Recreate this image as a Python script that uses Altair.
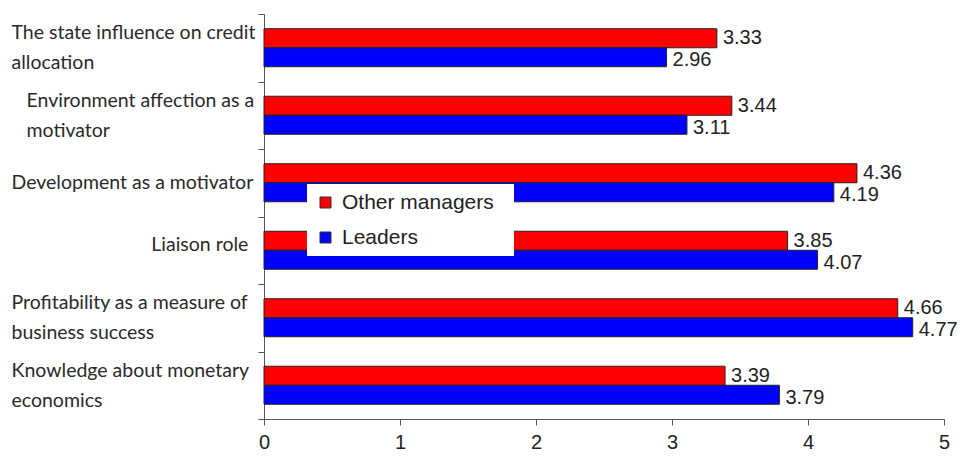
import altair as alt
import pandas as pd

categories = [
    "The state influence on credit allocation",
    "Environment affection as a motivator",
    "Development as a motivator",
    "Liaison role",
    "Profitability as a measure of business success",
    "Knowledge about monetary economics",
]
label_lines = [
    ["The state influence on credit", "allocation"],
    ["Environment affection as a", "motivator"],
    ["Development as a motivator"],
    ["Liaison role"],
    ["Profitability as a measure of", "business success"],
    ["Knowledge about monetary", "economics"],
]
label_indent = [0, 3, 0, 28, 0, 0]  # leading non-breaking spaces
series = ["Other managers", "Leaders"]
other_managers = [3.33, 3.44, 4.36, 3.85, 4.66, 3.39]
leaders = [2.96, 3.11, 4.19, 4.07, 4.77, 3.79]
x_ticks = [0, 1, 2, 3, 4, 5]

rows = []
for c, a, b in zip(categories, other_managers, leaders):
    rows.append({"category": c, "series": series[0], "value": a})
    rows.append({"category": c, "series": series[1], "value": b})
df = pd.DataFrame(rows)

label_font = "Lato"
num_font = "Liberation Sans"
NB = "\u00a0"
ZW = "\u200b"  # keeps the non-breaking spaces from being trimmed

expr = "datum.label"
for cat, lines, ind in reversed(list(zip(categories, label_lines, label_indent))):
    pre = (ZW + NB * ind) if ind else ""
    arr = "[" + ", ".join("'" + pre + ln + "'" for ln in lines) + "]"
    expr = f"datum.value == '{cat}' ? {arr} : ({expr})"
multi = [c for c, l in zip(categories, label_lines) if len(l) > 1]
multi_test = " || ".join(f"datum.value == '{c}'" for c in multi)

y_enc = alt.Y(
    "category:N",
    sort=categories,
    title=None,
    scale=alt.Scale(paddingInner=0, paddingOuter=0),
    axis=alt.Axis(
        labelExpr=expr,
        labelAlign="left",
        labelBaseline={
            "condition": [
                {"test": multi_test, "value": "line-bottom"},
                {"test": "datum.value == 'Liaison role'", "value": "alphabetic"},
            ],
            "value": "middle",
        },
        labelPadding=247,
        labelLimit=400,
        labelFont=label_font,
        labelFontSize=19.5,
        labelLineHeight=30,
        labelColor="#2a2a2a",
        tickBand="extent",
        tickSize=6,
        tickColor="#555555",
        domainColor="#555555",
        labelOverlap=False,
    ),
)

x_enc = alt.X(
    "value:Q",
    title=None,
    scale=alt.Scale(domain=[0, 5], nice=False),
    axis=alt.Axis(
        values=x_ticks,
        format="d",
        grid=False,
        labelFont=num_font,
        labelFontSize=20,
        labelColor="#222222",
        labelPadding=7,
        tickSize=6,
        tickColor="#555555",
        domainColor="#555555",
        labelFlush=False,
    ),
)

color_enc = alt.Color(
    "series:N",
    sort=series,
    scale=alt.Scale(domain=series, range=["#ff0000", "#0000ff"]),
    legend=alt.Legend(
        title=None,
        orient="none",
        legendX=43,
        legendY=170,
        fillColor="white",
        padding=8,
        symbolType="square",
        symbolSize=121,
        symbolStrokeColor="#333333",
        symbolStrokeWidth=1,
        labelFont=num_font,
        labelFontSize=21,
        labelColor="#222222",
        labelOffset=6,
        rowPadding=13,
        labelLimit=300,
        labelExpr="datum.label + '" + NB * 2 + ZW + "'",
    ),
)

yoff = alt.YOffset(
    "series:N",
    sort=series,
    scale=alt.Scale(domain=series, paddingInner=0, paddingOuter=0.776),
)

base = alt.Chart(df)

bars = base.mark_bar(stroke="#222222", strokeWidth=1).encode(
    y=y_enc,
    x=x_enc,
    yOffset=yoff,
    color=color_enc,
)

text_red = base.transform_filter(alt.datum.series == series[0]).mark_text(
    align="left", baseline="middle", dx=6, dy=0, font=num_font, fontSize=20, color="#222222"
).encode(
    y=alt.Y("category:N", sort=categories),
    x=alt.X("value:Q"),
    yOffset=alt.YOffset("series:N", sort=series),
    text=alt.Text("value:Q", format=".2f"),
)

text_blue = base.transform_filter(alt.datum.series == series[1]).mark_text(
    align="left", baseline="middle", dx=6, dy=3, font=num_font, fontSize=20, color="#222222"
).encode(
    y=alt.Y("category:N", sort=categories),
    x=alt.X("value:Q"),
    yOffset=alt.YOffset("series:N", sort=series),
    text=alt.Text("value:Q", format=".2f"),
)

chart = (
    alt.layer(bars, text_red, text_blue)
    .properties(
        width=680,
        height=405,
        autosize=alt.AutoSizeParams(type="none"),
        padding={"left": 256, "top": 6, "right": 14, "bottom": 32},
        background="white",
    )
    .configure_view(stroke=None)
)

chart.save("out.html", embed_options={"renderer": "svg", "actions": False})
